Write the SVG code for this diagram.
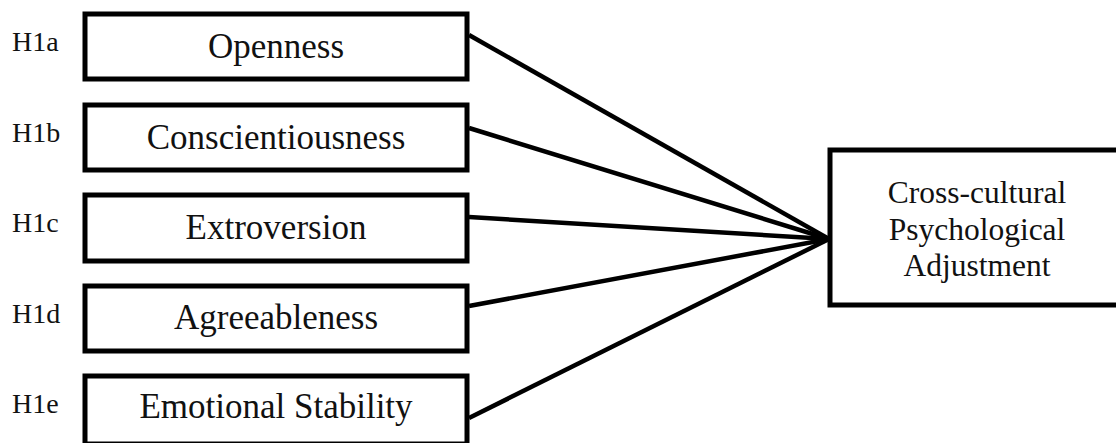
<svg xmlns="http://www.w3.org/2000/svg" width="1116" height="443" viewBox="0 0 1116 443">
<style>
.box{fill:#fff;stroke:#000;stroke-width:5}
.t{font-family:"Liberation Serif","Times New Roman",serif;font-size:35px;fill:#111;text-anchor:middle}
.r{font-family:"Liberation Serif","Times New Roman",serif;font-size:31.5px;fill:#111;text-anchor:middle}
.h{font-family:"Liberation Serif","Times New Roman",serif;font-size:28px;fill:#111}
.c{stroke:#000;stroke-width:4.5;fill:none;stroke-linecap:butt}
</style>
<rect width="1116" height="443" fill="#fff"/>
<g id="connectors">
<line class="c" x1="469" y1="35" x2="829" y2="239"/>
<line class="c" x1="469" y1="128" x2="829" y2="239"/>
<line class="c" x1="469" y1="217" x2="829" y2="239"/>
<line class="c" x1="469" y1="306" x2="829" y2="239"/>
<line class="c" x1="469" y1="418" x2="829" y2="239"/>
</g>
<g id="openness">
<text class="h" x="12" y="51">H1a</text>
<rect class="box" x="85" y="14" width="382" height="65"/>
<text class="t" x="276" y="58">Openness</text>
</g>
<g id="conscientiousness">
<text class="h" x="12" y="141.5">H1b</text>
<rect class="box" x="85" y="105" width="382" height="65"/>
<text class="t" x="276" y="148.5">Conscientiousness</text>
</g>
<g id="extroversion">
<text class="h" x="12" y="231.5">H1c</text>
<rect class="box" x="85" y="195" width="382" height="66"/>
<text class="t" x="276" y="239">Extroversion</text>
</g>
<g id="agreeableness">
<text class="h" x="12" y="322.5">H1d</text>
<rect class="box" x="85" y="286" width="382" height="65"/>
<text class="t" x="276" y="329">Agreeableness</text>
</g>
<g id="emotional-stability">
<text class="h" x="12" y="413">H1e</text>
<rect class="box" x="85" y="376" width="382" height="68"/>
<text class="t" x="276" y="418">Emotional Stability</text>
</g>
<g id="adjustment">
<rect class="box" x="830" y="150" width="300" height="155"/>
<text class="r" x="977" y="203">Cross-cultural</text>
<text class="r" x="977" y="239.5">Psychological</text>
<text class="r" x="977" y="276">Adjustment</text>
</g>
</svg>
